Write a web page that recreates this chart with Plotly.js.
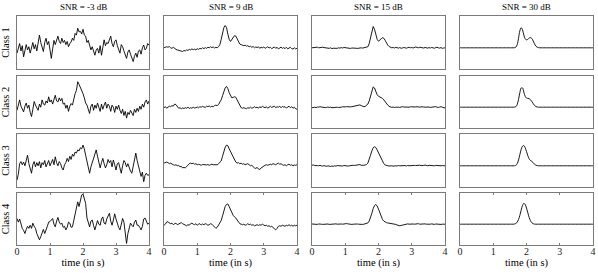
<!DOCTYPE html>
<html>
<head>
<meta charset="utf-8">
<script src="https://cdn.plot.ly/plotly-3.0.1.min.js"></script>
<style>
  body { margin: 0; background: #fff; }
  #plot { width: 598px; height: 274px; }
</style>
</head>
<body>
<div id="plot"></div>
<script>
// sampling grid of the signals (s)
var timeS = [];
for (var i = 0; i <= 100; i++) timeS.push(+(i * 0.04).toFixed(2));

var snrLabels = ['SNR = -3 dB', 'SNR = 9 dB', 'SNR = 15 dB', 'SNR = 30 dB'];
var classLabels = ['Class 1', 'Class 2', 'Class 3', 'Class 4'];
var timeTicks = [0, 1, 2, 3, 4];

// SNR = -3 dB
var snrM3Class1 = [-0.5,0.1,0.4,-0.3,0.2,-0.85,-0.1,0.3,-0.2,0.1,
  -0.5,0.2,0.5,-0.1,0.3,-0.3,0.4,1.2,0.5,0.1,
  -0.35,0.5,0.9,0.3,0.6,-0.2,-1.0,-0.1,0.7,0.3,
  0.8,1.1,0.6,0.4,0.9,0.5,0.7,0.3,0.6,0.1,
  0.4,0.55,0.9,0.7,1.35,1.2,1.85,1.5,1.55,1.3,
  1.75,1.2,1.1,0.5,0.7,0.2,-0.2,0.1,-0.4,-0.7,
  -0.2,-0.05,-0.5,0.2,-0.7,0.1,0.75,0.2,0.5,0.4,
  0.8,1.1,0.4,0.1,0.6,0.75,0.2,-0.1,-0.5,0.3,
  0.1,-0.3,-0.6,-1.0,-0.4,-0.2,-0.6,-0.9,-1.3,-0.8,
  -0.5,-0.9,-0.3,-0.2,-0.6,0.0,0.26,-0.2,-0.05,0.4,
  0.26];
var snrM3Class2 = [-0.3,0.2,0.7,0.1,-0.2,-0.45,0.1,0.4,-0.1,0.2,
  -0.5,-0.9,-0.2,0.55,0.2,-0.1,-0.3,0.3,0.0,0.7,
  0.3,0.2,0.6,0.4,1.0,0.5,0.7,0.3,0.8,1.15,
  0.6,0.5,0.9,0.6,0.85,0.3,0.4,-0.1,0.2,-0.4,
  0.1,0.35,0.2,0.9,1.3,1.6,2.45,2.2,1.9,1.7,
  1.3,0.9,0.4,0.2,-0.2,-0.6,0.1,0.3,-0.3,0.2,
  -0.1,0.4,0.0,-0.4,0.3,-0.2,0.2,0.5,-0.1,0.3,
  0.1,-0.4,0.2,0.0,-0.5,0.1,-0.2,0.2,-0.3,-0.6,
  -0.2,-0.8,-0.4,-1.05,-0.5,-0.7,-0.3,-0.6,-0.8,-0.2,
  -0.5,-0.1,-0.4,0.1,-0.2,0.3,0.0,0.5,0.7,0.3,
  0.6];
var snrM3Class3 = [-1.35,-0.8,0.2,0.4,0.1,0.35,0.0,0.5,1.0,0.2,
  -0.2,-0.7,0.1,0.4,-0.1,0.3,0.0,0.4,-0.2,0.3,
  0.1,0.5,-0.1,0.2,0.5,0.0,0.3,0.6,0.1,0.85,
  0.3,0.0,0.4,0.2,-0.2,-0.4,0.1,0.3,0.7,0.4,
  0.9,0.6,1.1,0.9,1.3,1.2,1.5,1.4,1.7,1.6,
  1.95,1.6,1.0,0.3,-0.2,-0.7,-0.1,0.3,0.9,1.2,
  1.5,0.9,0.4,-0.2,0.3,0.7,0.2,-0.2,0.1,0.6,
  0.3,0.5,-0.1,0.55,0.1,-0.4,0.2,0.3,-0.2,-0.7,
  0.0,0.5,0.3,-0.1,0.2,-0.25,-0.5,-0.7,0.0,0.6,
  1.2,0.5,-0.1,-0.4,-1.0,-0.6,-1.5,-0.9,-0.7,-0.9,
  -0.85];
var snrM3Class4 = [0.55,0.2,0.5,0.0,-0.4,-0.6,-0.9,-0.5,-0.2,-0.4,
  -0.1,-0.4,0.1,-0.2,-0.4,-0.9,-1.2,-1.5,-1.2,-0.8,
  -0.5,-0.9,-0.6,-0.2,0.2,0.25,0.4,0.55,0.0,-0.25,
  0.3,0.65,0.2,0.0,0.1,-0.3,-0.2,-0.55,-0.3,0.2,
  0.1,-0.3,-0.25,0.4,0.9,1.7,2.15,1.7,2.2,2.8,
  2.9,2.5,2.0,0.6,0.1,-0.25,0.3,0.4,-0.1,-0.55,
  -0.1,0.35,0.0,-0.1,0.5,0.7,0.1,0.0,0.5,0.8,
  1.05,0.3,-0.1,0.4,1.0,0.5,0.0,-0.3,-0.55,0.1,
  0.55,0.2,-0.6,-1.85,-0.9,-0.5,0.1,-0.1,-0.25,0.2,
  0.4,-0.1,-0.1,-0.3,-0.55,-0.2,0.5,0.6,0.2,0.0,
  0.1];

// SNR = 9 dB
var snr9Class1 = [0.0,0.05,0.1,0.05,0.12,0.0,-0.05,0.05,-0.1,-0.15,
  -0.2,-0.25,-0.3,-0.28,-0.35,-0.25,-0.3,-0.2,-0.25,-0.15,
  -0.2,-0.1,-0.18,-0.12,-0.2,-0.08,-0.15,-0.05,-0.1,0.0,
  -0.08,0.02,-0.05,0.05,0.0,0.1,0.02,0.08,-0.02,0.05,
  0.0,0.1,0.3,0.8,1.4,1.9,2.1,1.9,1.3,0.8,
  0.6,0.8,1.05,1.15,1.1,0.8,0.5,0.35,0.3,0.25,
  0.2,0.25,0.15,0.2,0.1,0.15,0.05,0.12,0.0,0.08,
  0.02,0.1,-0.05,0.05,0.0,0.08,-0.05,0.02,0.1,-0.02,
  0.05,-0.08,0.02,0.08,-0.05,0.05,-0.1,0.0,0.06,-0.05,
  0.02,-0.08,0.05,-0.1,-0.02,0.05,-0.08,-0.12,0.0,-0.1,
  -0.05];
var snr9Class2 = [-0.05,0.05,-0.1,0.0,0.1,0.05,0.15,0.1,0.3,0.25,
  0.05,-0.1,-0.05,-0.15,-0.08,-0.12,-0.05,-0.1,0.0,-0.12,
  -0.05,-0.1,0.0,-0.08,-0.05,0.02,-0.06,0.05,0.0,0.08,
  0.02,-0.02,0.1,0.05,0.12,0.02,0.1,0.05,0.15,0.2,
  0.15,0.25,0.5,0.7,1.1,1.5,1.85,2.0,1.8,1.4,
  1.05,0.9,0.95,1.0,0.95,0.7,0.4,0.1,-0.05,-0.1,
  -0.05,-0.1,-0.15,-0.05,-0.1,0.0,-0.1,-0.05,0.05,-0.05,
  0.0,-0.1,0.05,-0.05,0.1,0.0,-0.05,0.05,-0.1,0.0,
  0.08,-0.02,0.05,0.1,-0.05,0.05,0.0,0.1,-0.05,0.08,
  0.0,0.05,-0.08,0.02,0.1,-0.05,0.05,-0.1,0.0,-0.15,
  -0.2];
var snr9Class3 = [0.25,0.3,0.35,0.3,0.2,0.25,0.15,0.1,0.05,0.1,
  0.0,0.05,-0.1,-0.05,-0.2,-0.15,-0.2,-0.1,0.05,0.2,
  0.25,0.2,0.25,0.15,0.2,0.1,0.15,0.1,0.05,0.12,
  0.1,0.15,0.08,0.12,0.05,0.1,0.15,0.1,0.12,0.15,
  0.1,0.2,0.3,0.45,0.9,1.4,1.75,1.95,1.9,1.6,
  1.35,1.1,0.8,0.5,0.35,0.25,0.3,0.2,0.25,0.15,
  0.2,0.1,0.15,0.2,0.1,0.0,0.05,-0.1,-0.2,-0.25,
  -0.15,-0.3,-0.35,-0.2,-0.1,0.0,0.05,0.1,0.05,0.1,
  0.15,0.1,0.2,0.15,0.1,0.2,0.25,0.15,0.2,0.1,
  0.05,0.1,0.0,0.1,0.15,0.05,0.1,0.0,0.08,0.05,
  0.1];
var snr9Class4 = [-0.1,0.0,0.2,0.25,0.1,0.05,0.1,-0.05,0.05,0.1,
  -0.05,0.0,0.1,0.15,0.05,0.0,-0.1,-0.15,-0.05,-0.1,
  0.05,0.1,0.0,-0.05,0.05,-0.1,0.0,0.05,-0.08,0.02,
  -0.05,0.05,0.0,-0.1,-0.05,0.05,0.0,-0.15,-0.25,-0.4,
  -0.3,-0.1,0.1,0.35,0.8,1.3,1.7,1.9,1.95,1.7,
  1.4,1.1,0.85,0.7,0.6,0.4,0.2,0.05,0.0,-0.05,
  0.0,-0.1,-0.05,0.05,-0.05,0.0,-0.1,-0.05,-0.15,-0.1,
  -0.05,-0.12,-0.05,-0.1,0.0,-0.08,-0.15,-0.1,-0.2,-0.15,
  -0.25,-0.2,-0.35,-0.45,-0.55,-0.4,-0.2,-0.15,-0.2,-0.1,
  -0.15,-0.2,-0.1,-0.15,-0.05,-0.15,-0.1,-0.2,-0.1,-0.15,
  -0.1];

// SNR = 15 dB
var snr15Class1 = [0.0,0.03,0.05,0.02,0.06,0.0,0.04,0.08,0.05,0.02,
  0.0,-0.03,0.02,-0.05,0.0,-0.08,-0.04,-0.06,-0.02,-0.05,
  0.0,-0.03,0.02,-0.02,0.03,0.0,-0.04,0.0,-0.03,-0.06,
  -0.02,-0.05,-0.08,-0.04,-0.06,-0.02,-0.05,0.0,-0.03,0.0,
  0.0,0.02,0.1,0.4,1.0,1.65,2.0,1.75,1.2,0.8,
  0.62,0.7,0.85,0.95,0.9,0.7,0.45,0.25,0.12,0.05,
  0.0,0.03,-0.02,0.04,0.0,-0.03,0.02,-0.04,-0.02,0.03,
  0.0,-0.04,0.02,0.05,0.0,0.03,-0.02,0.04,0.08,0.03,
  0.0,0.05,0.02,0.06,-0.02,0.03,0.0,-0.03,0.02,-0.02,
  0.03,0.0,-0.04,0.02,0.05,0.0,-0.03,0.02,-0.05,-0.02,
  0.0];
var snr15Class2 = [-0.05,-0.02,0.0,-0.04,0.02,0.0,0.05,0.02,-0.02,0.0,
  -0.04,-0.02,0.02,-0.03,0.0,-0.05,-0.02,0.0,0.03,0.0,
  -0.03,0.02,0.0,0.04,0.0,0.03,0.05,0.02,0.06,0.03,
  0.05,0.08,0.04,0.1,0.12,0.18,0.22,0.15,0.08,0.05,
  0.08,0.15,0.3,0.6,1.1,1.65,1.95,1.85,1.5,1.2,
  1.05,1.0,0.95,0.85,0.7,0.5,0.35,0.2,0.08,0.0,
  -0.02,0.02,-0.03,0.0,0.03,0.0,-0.02,0.02,0.05,0.02,
  0.0,0.03,-0.02,0.0,0.04,0.02,0.0,-0.03,0.02,0.05,
  0.02,0.0,0.04,0.06,0.02,0.0,0.03,0.05,0.02,-0.02,
  0.0,0.04,0.02,0.06,0.0,-0.03,0.02,0.05,0.0,-0.05,
  -0.08];
var snr15Class3 = [0.05,0.08,0.03,0.06,0.02,0.0,0.04,0.0,-0.03,0.02,
  -0.02,-0.05,0.0,-0.04,-0.06,-0.02,-0.05,0.0,-0.03,0.02,
  0.0,0.04,0.02,-0.02,0.03,0.0,0.02,-0.03,0.0,0.03,
  0.02,0.05,0.03,0.06,0.1,0.15,0.12,0.05,0.02,0.05,
  0.08,0.12,0.25,0.55,1.0,1.4,1.7,1.8,1.72,1.5,
  1.25,0.95,0.65,0.4,0.2,0.08,0.02,0.0,-0.02,0.02,
  0.0,-0.03,0.02,0.0,-0.02,0.03,0.0,0.02,-0.03,0.0,
  0.02,-0.02,0.03,0.0,0.02,-0.02,0.0,0.04,0.02,0.05,
  0.03,0.06,0.02,0.0,0.04,0.07,0.03,0.0,0.05,0.02,
  0.06,0.03,0.0,0.04,0.02,-0.02,0.03,0.0,0.02,-0.02,
  0.0];
var snr15Class4 = [0.02,0.0,0.03,0.0,-0.02,0.02,0.04,0.0,-0.02,0.0,
  -0.03,0.0,0.02,-0.02,0.0,-0.04,-0.02,0.0,0.03,0.0,
  0.02,0.05,0.02,0.0,0.04,0.02,0.06,0.03,0.0,0.02,
  -0.02,0.0,0.03,0.05,0.02,0.0,-0.03,-0.05,-0.02,0.0,
  0.02,0.05,0.12,0.3,0.6,1.05,1.5,1.8,1.9,1.75,
  1.45,1.05,0.7,0.45,0.3,0.2,0.15,0.12,0.1,0.06,
  0.08,0.05,0.02,-0.02,-0.08,-0.12,-0.15,-0.12,-0.08,-0.05,
  -0.02,0.0,0.03,0.0,0.02,0.05,0.02,0.0,0.04,0.02,
  0.05,0.0,0.02,0.04,0.0,0.03,0.0,-0.02,0.02,0.0,
  0.03,0.0,-0.02,0.02,0.0,0.03,0.0,-0.02,0.0,0.02,
  0.0];

// SNR = 30 dB
var snr30Class1 = [0,0,0,0,0,0,0,0,0,0,
  0,0,0,0,0,0,0,0,0,0,
  0,0,0,0,0,0,0,0,0,0,
  0,0,0,0,0,0,0,0,0,0,
  0,0.01,0.06,0.3,0.9,1.6,1.9,1.7,1.2,0.85,
  0.75,0.8,0.92,0.96,0.88,0.65,0.38,0.17,0.06,0.02,
  0,0,0,0,0,0,0,0,0,0,
  0,0,0,0,0,0,0,0,0,0,
  0,0,0,0,0,0,0,0,0,0,
  0,0,0,0,0,0,0,0,0,0,
  0];
var snr30Class2 = [0,0,0,0,0,0,0,0,0,0,
  0,0,0,0,0,0,0,0,0,0,
  0,0,0,0,0,0,0,0,0,0,
  0,0,0,0,0,0,0,0,0,0,
  0,0.01,0.05,0.25,0.75,1.4,1.85,1.85,1.45,1.05,
  0.88,0.85,0.82,0.72,0.55,0.35,0.18,0.07,0.02,0,
  0,0,0,0,0,0,0,0,0,0,
  0,0,0,0,0,0,0,0,0,0,
  0,0,0,0,0,0,0,0,0,0,
  0,0,0,0,0,0,0,0,0,0,
  0];
var snr30Class3 = [0,0,0,0,0,0,0,0,0,0,
  0,0,0,0,0,0,0,0,0,0,
  0,0,0,0,0,0,0,0,0,0,
  0,0,0,0,0,0,0,0,0,0,
  0,0.01,0.05,0.2,0.55,1.05,1.55,1.85,1.9,1.7,
  1.35,0.95,0.65,0.5,0.42,0.3,0.15,0.06,0.02,0,
  0,0,0,0,0,0,0,0,0,0,
  0,0,0,0,0,0,0,0,0,0,
  0,0,0,0,0,0,0,0,0,0,
  0,0,0,0,0,0,0,0,0,0,
  0];
var snr30Class4 = [0,0,0,0,0,0,0,0,0,0,
  0,0,0,0,0,0,0,0,0,0,
  0,0,0,0,0,0,0,0,0,0,
  0,0,0,0,0,0,0,0,0,0,
  0,0.02,0.07,0.2,0.45,0.85,1.35,1.8,2.0,1.9,
  1.55,1.1,0.65,0.33,0.14,0.05,0.01,0,0,0,
  0,0,0,0,0,0,0,0,0,0,
  0,0,0,0,0,0,0,0,0,0,
  0,0,0,0,0,0,0,0,0,0,
  0,0,0,0,0,0,0,0,0,0,
  0];

// rows = classes, columns = SNR levels
var grid = [
  [snrM3Class1, snr9Class1, snr15Class1, snr30Class1],
  [snrM3Class2, snr9Class2, snr15Class2, snr30Class2],
  [snrM3Class3, snr9Class3, snr15Class3, snr30Class3],
  [snrM3Class4, snr9Class4, snr15Class4, snr30Class4]
];

// panel boxes in px
var W = 598, H = 274;
var colPx = [[17, 149], [164, 297], [312, 445], [460, 593]];
var rowPx = [[16, 69], [76, 128], [134, 187], [193, 245]];
var serif = 'Liberation Serif, Times New Roman, serif';
var frameColor = '#7a7a7a';

var traces = [];
var layout = {
  width: W,
  height: H,
  margin: { l: 0, r: 0, t: 0, b: 0 },
  plot_bgcolor: '#fff',
  paper_bgcolor: '#fff',
  font: { family: serif, size: 10, color: '#000' },
  showlegend: false,
  annotations: []
};

for (var r = 0; r < 4; r++) {
  for (var c = 0; c < 4; c++) {
    var k = r * 4 + c + 1;
    var s = k === 1 ? '' : String(k);
    var bottom = r === 3;

    traces.push({
      x: timeS,
      y: grid[r][c],
      type: 'scatter',
      mode: 'lines',
      line: { color: '#000', width: 0.9, shape: c === 3 ? 'spline' : 'linear' },
      xaxis: 'x' + s,
      yaxis: 'y' + s,
      hoverinfo: 'skip'
    });

    layout['xaxis' + s] = {
      domain: [colPx[c][0] / W, colPx[c][1] / W],
      anchor: 'y' + s,
      range: [0, 4],
      showline: true,
      mirror: bottom ? 'ticks' : true,
      linecolor: frameColor,
      linewidth: 1,
      showgrid: false,
      zeroline: false,
      ticks: bottom ? 'inside' : '',
      ticklen: 2,
      tickcolor: frameColor,
      tickvals: timeTicks,
      showticklabels: bottom,
      ticklabelstandoff: -3,
      tickfont: { family: serif, size: 10, color: '#222' },
      title: bottom ? { text: 'time (in s)', font: { family: serif, size: 10.5 }, standoff: 0 } : { text: '' }
    };

    layout['yaxis' + s] = {
      domain: [1 - rowPx[r][1] / H, 1 - rowPx[r][0] / H],
      anchor: 'x' + s,
      range: [-2, 3],
      showline: true,
      mirror: true,
      linecolor: frameColor,
      linewidth: 1,
      showgrid: false,
      zeroline: false,
      ticks: '',
      showticklabels: false,
      title: c === 0 ? { text: classLabels[r], font: { family: serif, size: 10.5 }, standoff: 4 } : { text: '' }
    };
  }
}

for (var c2 = 0; c2 < 4; c2++) {
  layout.annotations.push({
    text: snrLabels[c2],
    xref: 'paper', yref: 'paper',
    x: (colPx[c2][0] + colPx[c2][1]) / 2 / W,
    y: 1 - 7 / H,
    xanchor: 'center', yanchor: 'middle',
    showarrow: false,
    font: { family: serif, size: 9, color: '#000' }
  });
}

Plotly.newPlot('plot', traces, layout, { staticPlot: true, displayModeBar: false });
</script>
</body>
</html>
